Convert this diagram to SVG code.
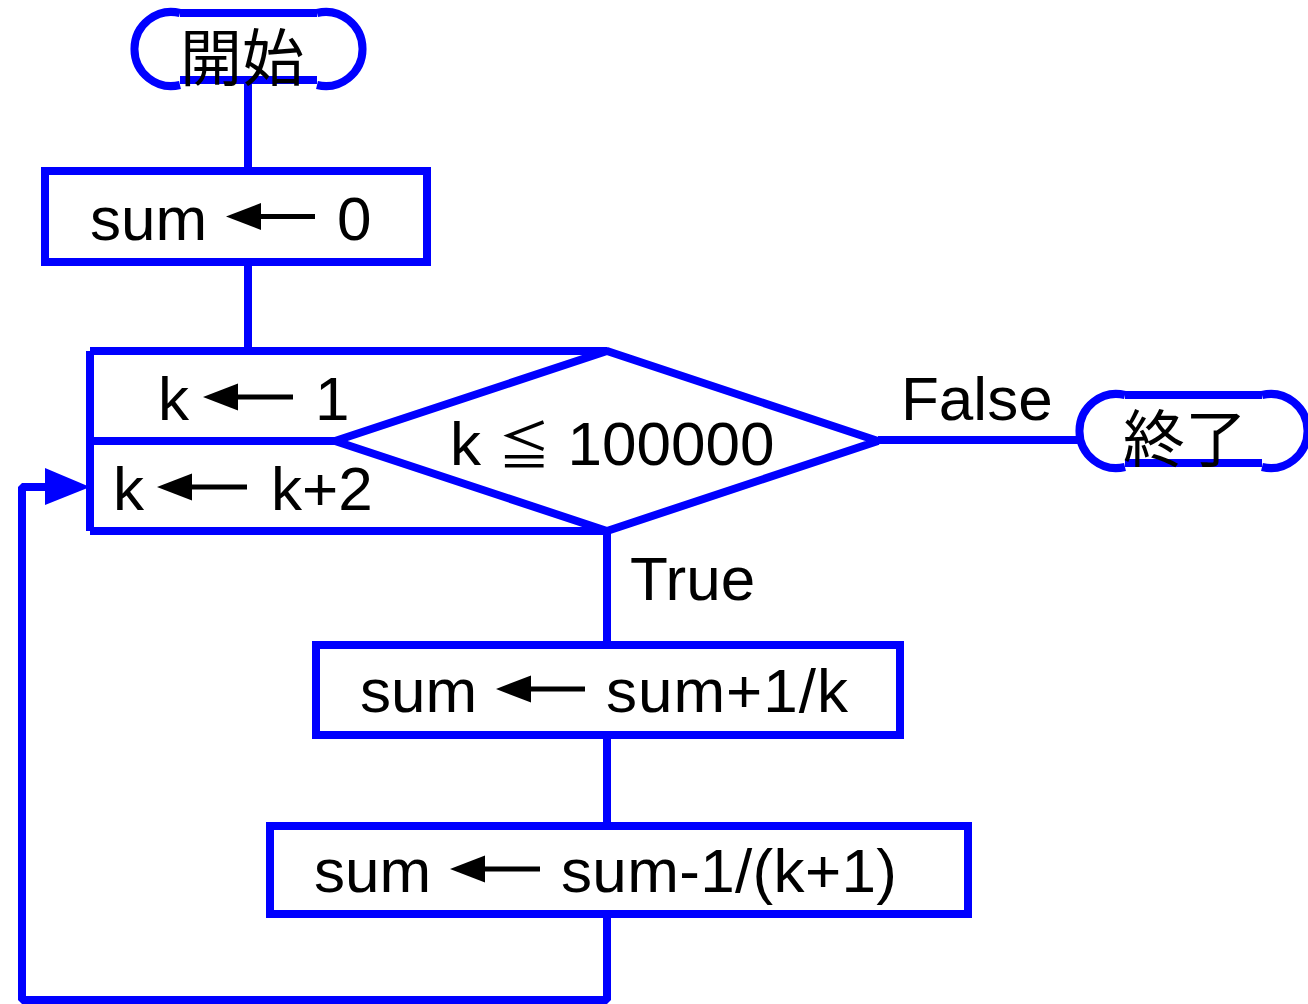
<svg xmlns="http://www.w3.org/2000/svg" width="1308" height="1004" viewBox="0 0 1308 1004">
<style>
.ln{fill:none;stroke:#0000ff;stroke-width:8}
.bx{fill:#ffffff;stroke:#0000ff;stroke-width:8}
.t{font-family:"Liberation Sans",Arial,"Noto Sans CJK JP",sans-serif;font-size:62px;fill:#000}
.j{font-family:"Noto Sans CJK JP","Noto Sans CJK SC",sans-serif;font-size:62px;fill:#000}
.ah{fill:#000}
.as{stroke:#000;stroke-width:5}
</style>
<rect width="1308" height="1004" fill="#fff"/>
<g id="connectors">
<path class="ln" d="M248,80 V171"/>
<path class="ln" d="M248,262 V351"/>
<path class="ln" d="M878,440 H1080"/>
<path class="ln" d="M607,531 V645"/>
<path class="ln" d="M607,735 V826"/>
<path class="ln" d="M607,914 V1000 H22 V487 H50" stroke-linejoin="bevel"/>
<polygon points="45,468 45,505 90,487" fill="#0000ff"/>
</g>
<g id="start">
<path class="ln" d="M180,13 H317 M180,80 H317"/>
<path class="ln" d="M180,13 A37,37 0 1 0 180,85"/>
<path class="ln" d="M317,13 A37,37 0 1 1 317,85"/>
<text class="j" x="180" y="81">開始</text>
</g>
<g id="init">
<rect class="bx" x="45" y="171" width="382" height="91"/>
<text class="t" x="90" y="240">sum</text>
<polygon class="ah" points="226,216.5 261,203 261,230"/>
<line class="as" x1="255" y1="216.5" x2="315" y2="216.5"/>
<text class="t" x="337" y="240">0</text>
</g>
<g id="loop">
<path class="ln" d="M90,351 H607 M90,441 H335 M90,531 H607 M90,351 V531"/>
<polygon class="ln" points="607,351 878,441 607,531 335,441" stroke-linejoin="bevel"/>
<text class="t" x="158" y="420">k</text>
<polygon class="ah" points="203,397 238,383.5 238,410.5"/>
<line class="as" x1="232" y1="397" x2="293" y2="397"/>
<text class="t" x="315" y="420">1</text>
<text class="t" x="113" y="510">k</text>
<polygon class="ah" points="157,487 192,473.5 192,500.5"/>
<line class="as" x1="186" y1="487" x2="247" y2="487"/>
<text class="t" x="271" y="510">k+2</text>
<text class="t" x="450" y="465">k <tspan font-size="52">≦</tspan> 100000</text>
</g>
<text class="t" x="901" y="420">False</text>
<text class="t" x="630" y="600">True</text>
<g id="end">
<path class="ln" d="M1125,395 H1262 M1125,463 H1262"/>
<path class="ln" d="M1125,395 A37,37 0 1 0 1125,467"/>
<path class="ln" d="M1262,395 A37,37 0 1 1 1262,467"/>
<text class="j" x="1123" y="462">終了</text>
</g>
<g id="add">
<rect class="bx" x="316" y="645" width="584" height="90"/>
<text class="t" x="360" y="712">sum</text>
<polygon class="ah" points="496,689 531,675.5 531,702.5"/>
<line class="as" x1="525" y1="689" x2="585" y2="689"/>
<text class="t" x="606" y="712" textLength="242" lengthAdjust="spacing">sum+1/k</text>
</g>
<g id="sub">
<rect class="bx" x="270" y="826" width="698" height="88"/>
<text class="t" x="314" y="892">sum</text>
<polygon class="ah" points="450,869 485,855.5 485,882.5"/>
<line class="as" x1="479" y1="869" x2="540" y2="869"/>
<text class="t" x="561" y="892" textLength="336" lengthAdjust="spacing">sum-1/(k+1)</text>
</g>
</svg>
